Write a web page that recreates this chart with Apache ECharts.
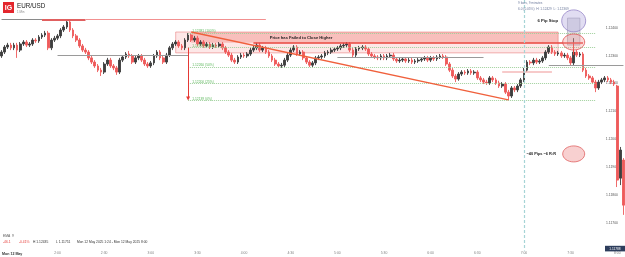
<!DOCTYPE html>
<html><head><meta charset="utf-8">
<script src="https://cdn.jsdelivr.net/npm/echarts@6/dist/echarts.min.js"></script>
<style>html,body{margin:0;padding:0;background:#fff;overflow:hidden}#c{width:625px;height:257px}</style>
</head><body><div id="c"></div>
<script>
// EUR/USD, 2-minute candles from 1:24
const startMinute = 84;   // 1:24
const stepMinutes = 2;
// [open, close, low, high]
const ohlc = [
[1.12299,1.12313,1.12292,1.12320],[1.12313,1.12331,1.12306,1.12338],[1.12331,1.12338,1.12324,1.12346],[1.12338,1.12328,1.12320,1.12346],
[1.12328,1.12338,1.12320,1.12346],[1.12338,1.12320,1.12292,1.12346],[1.12320,1.12342,1.12313,1.12349],[1.12342,1.12349,1.12335,1.12356],
[1.12349,1.12338,1.12331,1.12356],[1.12338,1.12342,1.12331,1.12349],
[1.12342,1.12356,1.12335,1.12363],[1.12356,1.12353,1.12346,1.12363],[1.12353,1.12367,1.12346,1.12374],[1.12367,1.12374,1.12360,1.12381],
[1.12374,1.12381,1.12367,1.12389],[1.12381,1.12328,1.12320,1.12389],[1.12328,1.12356,1.12320,1.12363],[1.12356,1.12363,1.12349,1.12371],
[1.12363,1.12371,1.12356,1.12378],[1.12371,1.12392,1.12363,1.12399],
[1.12392,1.12403,1.12385,1.12410],[1.12403,1.12421,1.12396,1.12428],[1.12421,1.12392,1.12385,1.12428],[1.12392,1.12371,1.12363,1.12399],
[1.12371,1.12356,1.12349,1.12378],[1.12356,1.12335,1.12328,1.12363],[1.12335,1.12320,1.12313,1.12342],[1.12320,1.12313,1.12306,1.12328],
[1.12313,1.12292,1.12284,1.12320],[1.12292,1.12277,1.12270,1.12299],
[1.12277,1.12263,1.12256,1.12284],[1.12263,1.12248,1.12241,1.12270],[1.12248,1.12241,1.12227,1.12256],[1.12241,1.12270,1.12234,1.12277],
[1.12270,1.12284,1.12263,1.12292],[1.12284,1.12263,1.12256,1.12292],[1.12263,1.12256,1.12248,1.12270],[1.12256,1.12241,1.12231,1.12263],
[1.12241,1.12284,1.12234,1.12292],[1.12284,1.12295,1.12277,1.12302],
[1.12295,1.12306,1.12288,1.12313],[1.12306,1.12299,1.12292,1.12317],[1.12299,1.12277,1.12270,1.12306],[1.12277,1.12292,1.12270,1.12299],
[1.12292,1.12299,1.12284,1.12306],[1.12299,1.12284,1.12277,1.12306],[1.12284,1.12270,1.12263,1.12292],[1.12270,1.12263,1.12256,1.12277],
[1.12263,1.12274,1.12256,1.12281],[1.12274,1.12299,1.12266,1.12306],
[1.12299,1.12313,1.12292,1.12320],[1.12313,1.12292,1.12284,1.12320],[1.12292,1.12277,1.12270,1.12299],[1.12277,1.12302,1.12270,1.12310],
[1.12302,1.12328,1.12295,1.12335],[1.12328,1.12342,1.12320,1.12349],[1.12342,1.12349,1.12335,1.12356],[1.12349,1.12335,1.12328,1.12356],
[1.12335,1.12328,1.12320,1.12342],[1.12328,1.12356,1.12320,1.12363],
[1.12356,1.12374,1.12349,1.12381],[1.12374,1.12356,1.12349,1.12381],[1.12356,1.12363,1.12349,1.12371],[1.12363,1.12342,1.12335,1.12371],
[1.12342,1.12349,1.12335,1.12356],[1.12349,1.12335,1.12328,1.12356],[1.12335,1.12342,1.12328,1.12349],[1.12342,1.12331,1.12324,1.12349],
[1.12331,1.12338,1.12324,1.12346],[1.12338,1.12335,1.12328,1.12346],
[1.12335,1.12342,1.12328,1.12349],[1.12342,1.12328,1.12320,1.12349],[1.12328,1.12313,1.12306,1.12335],[1.12313,1.12302,1.12295,1.12320],
[1.12302,1.12284,1.12277,1.12310],[1.12284,1.12277,1.12270,1.12292],[1.12277,1.12295,1.12270,1.12302],[1.12295,1.12302,1.12288,1.12310],
[1.12302,1.12299,1.12292,1.12310],[1.12299,1.12306,1.12292,1.12313],
[1.12306,1.12320,1.12299,1.12328],[1.12320,1.12328,1.12313,1.12335],[1.12328,1.12338,1.12320,1.12346],[1.12338,1.12320,1.12313,1.12346],
[1.12320,1.12328,1.12313,1.12335],[1.12328,1.12313,1.12306,1.12335],[1.12313,1.12299,1.12292,1.12320],[1.12299,1.12284,1.12277,1.12306],
[1.12284,1.12270,1.12263,1.12292],[1.12270,1.12263,1.12256,1.12277],
[1.12263,1.12266,1.12256,1.12274],[1.12266,1.12284,1.12259,1.12292],[1.12284,1.12302,1.12277,1.12310],[1.12302,1.12320,1.12295,1.12328],
[1.12320,1.12331,1.12313,1.12338],[1.12331,1.12306,1.12299,1.12338],[1.12306,1.12313,1.12299,1.12320],[1.12313,1.12292,1.12284,1.12320],
[1.12292,1.12277,1.12270,1.12299],[1.12277,1.12266,1.12259,1.12284],
[1.12266,1.12274,1.12259,1.12281],[1.12274,1.12292,1.12266,1.12299],[1.12292,1.12295,1.12284,1.12302],[1.12295,1.12299,1.12288,1.12306],
[1.12299,1.12310,1.12292,1.12317],[1.12310,1.12313,1.12302,1.12320],[1.12313,1.12320,1.12306,1.12328],[1.12320,1.12324,1.12313,1.12331],
[1.12324,1.12328,1.12317,1.12335],[1.12328,1.12335,1.12320,1.12342],
[1.12335,1.12338,1.12328,1.12346],[1.12338,1.12342,1.12331,1.12349],[1.12342,1.12320,1.12313,1.12349],[1.12320,1.12302,1.12295,1.12328],
[1.12302,1.12324,1.12295,1.12331],[1.12324,1.12328,1.12317,1.12335],[1.12328,1.12331,1.12320,1.12338],[1.12331,1.12324,1.12317,1.12338],
[1.12324,1.12306,1.12299,1.12331],[1.12306,1.12299,1.12292,1.12313],
[1.12299,1.12295,1.12288,1.12306],[1.12295,1.12292,1.12284,1.12302],[1.12292,1.12299,1.12284,1.12306],[1.12299,1.12292,1.12284,1.12306],
[1.12292,1.12299,1.12284,1.12306],[1.12299,1.12302,1.12292,1.12310],[1.12302,1.12288,1.12281,1.12310],[1.12288,1.12281,1.12274,1.12295],
[1.12281,1.12284,1.12274,1.12292],[1.12284,1.12288,1.12277,1.12295],
[1.12288,1.12281,1.12274,1.12295],[1.12281,1.12284,1.12274,1.12292],[1.12284,1.12277,1.12270,1.12292],[1.12277,1.12281,1.12270,1.12288],
[1.12281,1.12284,1.12274,1.12292],[1.12284,1.12288,1.12277,1.12295],[1.12288,1.12292,1.12281,1.12299],[1.12292,1.12284,1.12277,1.12299],
[1.12284,1.12292,1.12277,1.12299],[1.12292,1.12288,1.12281,1.12299],
[1.12288,1.12295,1.12281,1.12302],[1.12295,1.12299,1.12288,1.12306],[1.12299,1.12295,1.12288,1.12306],[1.12295,1.12270,1.12263,1.12302],
[1.12270,1.12248,1.12241,1.12277],[1.12248,1.12227,1.12220,1.12256],[1.12227,1.12216,1.12205,1.12234],[1.12216,1.12234,1.12210,1.12241],
[1.12234,1.12241,1.12227,1.12248],[1.12241,1.12238,1.12231,1.12248],
[1.12238,1.12245,1.12231,1.12252],[1.12245,1.12238,1.12231,1.12252],[1.12238,1.12241,1.12231,1.12248],[1.12241,1.12220,1.12213,1.12248],
[1.12220,1.12213,1.12205,1.12227],[1.12213,1.12205,1.12198,1.12220],[1.12205,1.12202,1.12195,1.12213],[1.12202,1.12220,1.12195,1.12227],
[1.12220,1.12213,1.12205,1.12227],[1.12213,1.12202,1.12195,1.12220],
[1.12202,1.12191,1.12184,1.12210],[1.12191,1.12198,1.12184,1.12205],[1.12198,1.12169,1.12162,1.12205],[1.12169,1.12155,1.12139,1.12177],
[1.12155,1.12184,1.12148,1.12191],[1.12184,1.12177,1.12169,1.12191],[1.12177,1.12191,1.12169,1.12198],[1.12191,1.12213,1.12184,1.12220],
[1.12213,1.12248,1.12205,1.12256],[1.12248,1.12277,1.12241,1.12284],
[1.12277,1.12274,1.12266,1.12284],[1.12274,1.12284,1.12266,1.12292],[1.12284,1.12277,1.12270,1.12292],[1.12277,1.12281,1.12270,1.12288],
[1.12281,1.12292,1.12274,1.12299],[1.12292,1.12313,1.12284,1.12320],[1.12313,1.12331,1.12306,1.12338],[1.12331,1.12313,1.12306,1.12338],
[1.12313,1.12306,1.12299,1.12320],[1.12306,1.12310,1.12299,1.12317],
[1.12310,1.12299,1.12292,1.12317],[1.12299,1.12302,1.12292,1.12310],[1.12302,1.12292,1.12284,1.12310],[1.12292,1.12274,1.12263,1.12299],
[1.12274,1.12313,1.12266,1.12363],[1.12313,1.12302,1.12295,1.12320],[1.12302,1.12306,1.12295,1.12313],[1.12306,1.12248,1.12241,1.12313],
[1.12248,1.12227,1.12220,1.12256],[1.12227,1.12220,1.12213,1.12234],
[1.12220,1.12205,1.12198,1.12227],[1.12205,1.12184,1.12169,1.12213],[1.12184,1.12205,1.12177,1.12213],[1.12205,1.12213,1.12198,1.12220],
[1.12213,1.12220,1.12205,1.12227],[1.12220,1.12213,1.12205,1.12227],[1.12213,1.12205,1.12198,1.12220],[1.12205,1.12198,1.12191,1.12213],
[1.12191,1.11853,1.11828,1.12195],[1.11860,1.11961,1.11835,1.11972],
[1.11925,1.11763,1.11728,1.11932]
];
const times = ohlc.map((_, i) => { const m = startMinute + i * stepMinutes; return Math.floor(m / 60) + ':' + String(m % 60).padStart(2, '0'); });

const yMin = 1.116, yMax = 1.125, yStep = 0.001;
const fibLevels = [1.12381, 1.12329, 1.12260, 1.12200, 1.12139];
const fibLabels = ['1.12381 (100%)', '1.12329 (78.6%)', '1.12260 (50%)', '1.12200 (25%)', '1.12139 (0%)'];
const sessionHigh = 1.12430, dottedTop = 1.12405, zoneTop = 1.12385, zoneMid = 1.12346, zoneBottom = 1.12310;
const grayLevels = [[18, 60, 1.12302], [108, 155, 1.12295], [176, 200, 1.12266]];
const targetLevel = 1.11878, pinkLevel = 1.12241;
const trendStart = [61, 1.12385], trendEnd = [163, 1.12141];
const sevenOClock = times.indexOf('7:00');

const chart = echarts.init(document.getElementById('c'), null, {renderer: 'canvas'});
const seg = (i1, p1, i2, p2, style) => [{coord: [i1, p1], symbol: 'none', lineStyle: style}, {coord: [i2, p2], symbol: 'none'}];
const red = '#e8453c';
const lines = [
  seg(0, sessionHigh, 13, sessionHigh, {color: '#8a8a8a', width: 1, type: 'solid'}),
  seg(13, sessionHigh, 27, sessionHigh, {color: '#e06060', width: 2, type: 'solid'}),
  seg(27, sessionHigh, 85, sessionHigh, {color: '#f29090', width: 1.2, type: 'solid'}),
  [{yAxis: dottedTop, lineStyle: {color: '#f5a3a3', width: 1, type: [1, 1.5]}, symbol: 'none'}, {yAxis: dottedTop, symbol: 'none'}],
  [{yAxis: fibLevels[4], lineStyle: {color: '#f5a3a3', width: 1, type: [1, 1.5]}, symbol: 'none'}, {yAxis: fibLevels[4], symbol: 'none'}],
  [{yAxis: targetLevel, lineStyle: {color: '#f7b8a4', width: 1, type: 'solid'}, symbol: 'none'}, {yAxis: targetLevel, symbol: 'none'}],
  ...grayLevels.map(g => seg(g[0], g[2], g[1], g[2], {color: '#9a9a9a', width: 1, type: 'solid'})),
  ...fibLevels.map(v => seg(60, v, 191, v, {color: '#9fd09b', width: 1, type: [1, 1]})),
  seg(161, pinkLevel, 177, pinkLevel, {color: '#f5b8b8', width: 1.5, type: 'solid'}),
  seg(81, zoneMid, 187, zoneMid, {color: red, width: 1.6, type: 'solid'}),
  seg(184, zoneMid, 184, 1.12302, {color: red, width: 1, type: 'solid'}),
  seg(trendStart[0], trendStart[1], trendEnd[0], trendEnd[1], {color: '#f0603c', width: 1.3, type: 'solid'}),
  [{coord: [60, 1.12328], symbol: 'none', lineStyle: {color: '#e53935', width: 1, type: 'solid'}}, {coord: [60, 1.12146], symbol: 'triangle', symbolSize: [4, 4], symbolRotate: 180}],
  seg(sevenOClock, yMax, sevenOClock, yMin, {color: '#a6d4d6', width: 1.2, type: [3, 2]})
];

const option = {
  animation: false,
  backgroundColor: '#ffffff',
  grid: {left: 0, right: 0, top: 0, bottom: 6.5},
  xAxis: {
    type: 'category', data: times, boundaryGap: true,
    axisLine: {show: false}, axisTick: {show: false}, splitLine: {show: false},
    axisLabel: {
      interval: (idx, val) => idx > 5 && (val.endsWith(':00') || val.endsWith(':30')),
      fontSize: 3.4, color: '#808080', margin: 1.2, fontFamily: 'Liberation Sans, Arial'
    }
  },
  yAxis: {
    type: 'value', position: 'right', min: yMin, max: yMax, interval: yStep,
    axisLine: {show: false}, axisTick: {show: false}, splitLine: {show: false},
    axisLabel: {
      inside: true, margin: 7, fontSize: 3.4, color: '#555', showMinLabel: false, showMaxLabel: false,
      formatter: v => v.toFixed(5), fontFamily: 'Liberation Sans, Arial'
    }
  },
  series: [{
    type: 'candlestick', data: ohlc, barWidth: 2.2,
    itemStyle: {color: '#3e3e3e', color0: '#ee5a5a', borderColor: '#3e3e3e', borderColor0: '#ee5a5a', borderWidth: 0.9},
    markLine: {silent: true, animation: false, symbol: 'none', label: {show: false}, data: lines},
    markArea: {
      silent: true, label: {show: false},
      data: [
        [{coord: [56, zoneTop], itemStyle: {color: 'rgba(244,135,135,0.20)', borderColor: 'rgba(226,90,90,0.55)', borderWidth: 0.8}}, {coord: [179, zoneBottom]}],
        [{coord: [61, zoneTop], itemStyle: {color: 'rgba(240,100,88,0.30)'}}, {coord: [179, zoneMid]}],
        [{coord: [182, 1.12435], itemStyle: {color: 'rgba(185,185,198,0.45)', borderColor: '#9a9aa8', borderWidth: 0.6}}, {coord: [186, 1.12338]}]
      ]
    }
  }]
};
chart.setOption(option);

const px = (i, p) => chart.convertToPixel({gridIndex: 0}, [i, p]);
const T = (x, y, text, o) => ({type: 'text', x, y, style: Object.assign({text, fontSize: 3.4, fill: '#333', fontFamily: 'Liberation Sans, Arial', verticalAlign: 'middle', align: 'left'}, o || {}), z: 100});
const ell = (i, p, rx, ry, fill, stroke) => { const c = px(i, p); return {type: 'ellipse', shape: {cx: c[0], cy: c[1], rx, ry}, style: {fill, stroke, lineWidth: 0.8}, z: 90}; };
const g = [];
g.push({type: 'rect', shape: {x: 3, y: 2, width: 11, height: 11}, style: {fill: '#e3262d'}, z: 100});
g.push(T(8.5, 7.7, 'IG', {fill: '#fff', fontSize: 7, fontWeight: 'bold', align: 'center'}));
g.push(T(17, 6.5, 'EUR/USD', {fontSize: 6.3, fill: '#222'}));
g.push(T(17, 12.5, '1 Min', {fontSize: 3, fill: '#888'}));
fibLevels.forEach((v, k) => { const p = px(61, v); g.push(T(p[0] + 1, p[1] - 1.6, fibLabels[k], {fill: '#5cb85c', fontSize: 3.3})); });
g.push(T(301, 37.5, 'Price has Failed to Close Higher', {fontSize: 4.1, fontWeight: 'bold', align: 'center', fill: '#222'}));
g.push(ell(184, 1.12425, 12, 11, 'rgba(180,170,222,0.40)', '#9585c8'));
g.push(ell(184, 1.12349, 11, 8, 'rgba(240,150,150,0.35)', '#e05050'));
g.push(ell(184, 1.11947, 11, 8, 'rgba(242,170,170,0.55)', '#e06060'));
g.push(T(558, 20.5, '6 Pip Stop', {fontSize: 4.2, fontWeight: 'bold', align: 'right', fill: '#222'}));
g.push(T(518, 3.2, '9 bars, 9 minutes', {fontSize: 3.2, fill: '#6d7a9c'}));
g.push(T(518, 9, '6.0 (0.05%)  H: 1.12429  L: 1.12369', {fontSize: 3.2, fill: '#6d7a9c'}));
g.push(T(556, 154, '~40 Pips ~6 R:R', {fontSize: 3.9, fontWeight: 'bold', align: 'right', fill: '#222'}));
g.push(T(3, 236, 'EMA  9', {fontSize: 3.3, fill: '#555'}));
g.push(T(3, 242.5, '-46.1', {fontSize: 3.3, fill: '#e53935'}));
g.push(T(19, 242.5, '-0.41%', {fontSize: 3.3, fill: '#e53935'}));
g.push(T(33, 242.5, 'H 1.12435', {fontSize: 3.3, fill: '#333'}));
g.push(T(56, 242.5, 'L 1.11751', {fontSize: 3.3, fill: '#333'}));
g.push(T(77, 242.5, 'Mon 12 May 2025 1:24 - Mon 12 May 2025 8:00', {fontSize: 3.3, fill: '#333'}));
g.push(T(2, 253.8, 'Mon 12 May', {fontSize: 3.6, fill: '#333', fontWeight: 'bold'}));
g.push({type: 'rect', shape: {x: 605, y: 245.8, width: 20, height: 5.6}, style: {fill: '#2d3d5c'}, z: 100});
g.push(T(615, 248.7, '1.11788', {fontSize: 3.2, fill: '#fff', align: 'center'}));
chart.setOption({graphic: g});
</script></body></html>
